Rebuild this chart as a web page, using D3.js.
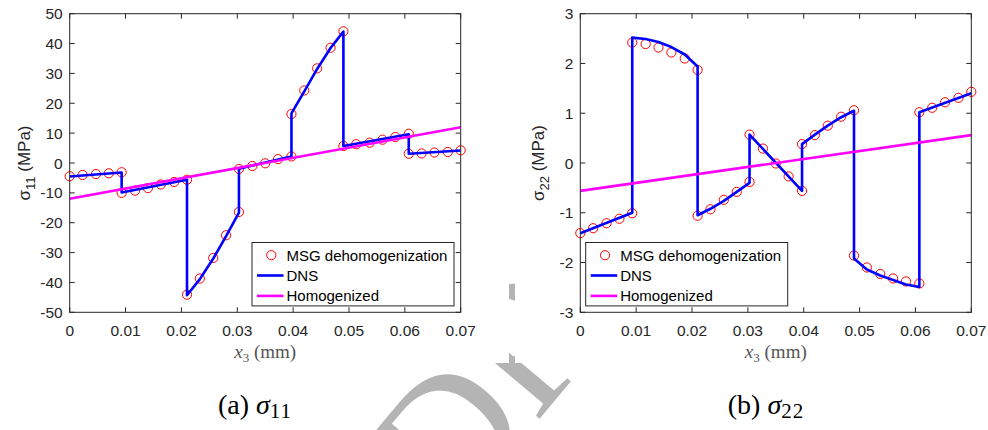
<!DOCTYPE html>
<html>
<head>
<meta charset="utf-8">
<script src="https://cdn.jsdelivr.net/npm/d3@7"></script>
<style>
body { margin: 0; background: #fff; }
svg { display: block; }
</style>
</head>
<body>
<svg id="fig" width="988" height="430"></svg>
<script>
// marker positions (MSG dehomogenization), same x for both panels
var xMsg = [0, 0.0023, 0.0047, 0.007, 0.0093, 0.0093, 0.0117, 0.014, 0.0163, 0.0187, 0.021,
            0.021, 0.0233, 0.0257, 0.028, 0.0303, 0.0303, 0.0327, 0.035, 0.0373, 0.0397,
            0.0397, 0.042, 0.0443, 0.0467, 0.049, 0.049, 0.0513, 0.0537, 0.056, 0.0583, 0.0607,
            0.0607, 0.063, 0.0653, 0.0677, 0.07];
var s11Msg = [-4.45, -4.0, -3.7, -3.45, -3.1, -10.0, -9.25, -8.4, -7.2, -6.35, -5.6,
              -44.1, -38.7, -31.8, -24.2, -16.4, -2.0, -1.0, -0.1, 1.3, 2.2,
              16.4, 24.3, 31.7, 38.6, 44.1, 5.7, 6.3, 6.8, 7.8, 8.7, 9.8,
              3.1, 3.2, 3.5, 3.7, 4.25];
var s22Msg = [-1.41, -1.31, -1.21, -1.12, -1.01, 2.42, 2.39, 2.32, 2.22, 2.10, 1.87,
              -1.06, -0.93, -0.74, -0.58, -0.38, 0.57, 0.29, -0.01, -0.27, -0.56,
              0.38, 0.56, 0.75, 0.93, 1.06, -1.86, -2.10, -2.23, -2.32, -2.38, -2.42,
              1.02, 1.11, 1.22, 1.31, 1.43];

// DNS curves
var xDns11 = [0, 0.0093, 0.0093, 0.021, 0.021, 0.0233, 0.0257, 0.028, 0.0303, 0.0303, 0.0397,
              0.0397, 0.042, 0.0443, 0.0467, 0.049, 0.049, 0.0607, 0.0607, 0.07];
var s11Dns = [-4.5, -3.2, -9.9, -5.6, -44.3, -38.9, -32.0, -24.5, -16.6, -1.9, 2.2,
              16.6, 24.0, 31.5, 38.5, 44.0, 5.7, 9.6, 3.1, 4.2];
var xDns22 = [0, 0.0093, 0.0093, 0.0117, 0.014, 0.0163, 0.0187, 0.021, 0.021, 0.0233, 0.0257,
              0.028, 0.0303, 0.0303, 0.0397, 0.0397, 0.042, 0.0443, 0.0467, 0.049, 0.049,
              0.0513, 0.0537, 0.056, 0.0583, 0.0607, 0.0607, 0.07];
var s22Dns = [-1.41, -1.0, 2.52, 2.49, 2.43, 2.33, 2.18, 1.94, -1.05, -0.92, -0.76,
              -0.58, -0.4, 0.57, -0.56, 0.38, 0.57, 0.75, 0.92, 1.05, -1.92,
              -2.14, -2.26, -2.35, -2.44, -2.49, 1.02, 1.40];

// homogenized solution
var xHom = [0, 0.07];
var s11Hom = [-12, 12];
var s22Hom = [-0.56, 0.56];

var xTicks = [0, 0.01, 0.02, 0.03, 0.04, 0.05, 0.06, 0.07];
var s11Ticks = [-50, -40, -30, -20, -10, 0, 10, 20, 30, 40, 50];
var s22Ticks = [-3, -2, -1, 0, 1, 2, 3];

var legendNames = ["MSG dehomogenization", "DNS", "Homogenized"];

var svg = d3.select("#fig");
var axisColor = "#262626";
var sans = "'Liberation Sans', Arial, Helvetica, sans-serif";
var serif = "'Liberation Serif', 'Times New Roman', serif";

svg.append("rect").attr("width", 988).attr("height", 430).attr("fill", "#fff");

// watermark behind the figure images
svg.append("text")
    .text("DRAFT")
    .attr("transform", "translate(452,523) rotate(-50)")
    .attr("font-family", serif)
    .attr("font-size", "180px")
    .attr("fill", "#b4b4b4");
svg.append("rect").attr("x", 0).attr("y", 0).attr("width", 509).attr("height", 363).attr("fill", "#fff");
svg.append("rect").attr("x", 515).attr("y", 0).attr("width", 473).attr("height", 363).attr("fill", "#fff");

function panel(opt) {
    var left = opt.left, right = opt.left + 391, top = 13.7, bottom = 312.3;
    var x = d3.scaleLinear().domain([0, 0.07]).range([left, right]);
    var y = d3.scaleLinear().domain(opt.yDomain).range([bottom, top]);
    var g = svg.append("g");

    // ticks (inward on all four sides)
    var tk = 5;
    g.selectAll(".xt").data(xTicks).enter().append("path")
        .attr("d", function (d) { var px = x(d); return "M" + px + "," + bottom + "v" + (-tk) + "M" + px + "," + top + "v" + tk; })
        .attr("stroke", axisColor).attr("stroke-width", 1);
    g.selectAll(".yt").data(opt.yTicks).enter().append("path")
        .attr("d", function (d) { var py = y(d); return "M" + left + "," + py + "h" + tk + "M" + right + "," + py + "h" + (-tk); })
        .attr("stroke", axisColor).attr("stroke-width", 1);

    g.selectAll(".xl").data(xTicks).enter().append("text")
        .text(function (d) { return String(d); })
        .attr("x", function (d) { return x(d); })
        .attr("y", bottom + 24)
        .attr("text-anchor", "middle")
        .attr("font-family", sans).attr("font-size", "15.5px").attr("fill", axisColor);
    g.selectAll(".yl").data(opt.yTicks).enter().append("text")
        .text(function (d) { return String(d); })
        .attr("x", left - 7)
        .attr("y", function (d) { return y(d) + 5.6; })
        .attr("text-anchor", "end")
        .attr("font-family", sans).attr("font-size", "15.5px").attr("fill", axisColor);

    // y label
    var yl = g.append("text")
        .attr("transform", "translate(" + opt.ylabX + "," + 163 + ") rotate(-90)")
        .attr("text-anchor", "middle")
        .attr("font-family", sans).attr("font-size", "17px").attr("fill", axisColor);
    yl.append("tspan").text("σ");
    yl.append("tspan").text(opt.sub).attr("font-size", "13px").attr("dy", 5);
    yl.append("tspan").text(" (MPa)").attr("dy", -5);

    // x label
    var xl = g.append("text")
        .attr("x", (left + right) / 2)
        .attr("y", 358)
        .attr("text-anchor", "middle")
        .attr("font-family", serif).attr("font-size", "19px").attr("fill", "#555");
    xl.append("tspan").text("x").attr("font-style", "italic");
    xl.append("tspan").text("3").attr("font-size", "13px").attr("dy", 4);
    xl.append("tspan").text(" (mm)").attr("dy", -4);

    // data
    g.selectAll(".msg").data(xMsg).enter().append("circle")
        .attr("cx", function (d) { return x(d); })
        .attr("cy", function (d, i) { return y(opt.msg[i]); })
        .attr("r", 4.6)
        .attr("fill", "none").attr("stroke", "#ff0000").attr("stroke-width", 1);

    var line = d3.line()
        .x(function (d) { return x(d[0]); })
        .y(function (d) { return y(d[1]); });
    g.append("path")
        .datum(d3.zip(opt.xDns, opt.dns))
        .attr("d", line)
        .attr("fill", "none").attr("stroke", "#0000ff").attr("stroke-width", 2.6)
        .attr("stroke-linejoin", "round");
    g.append("path")
        .datum(d3.zip(xHom, opt.hom))
        .attr("d", line)
        .attr("fill", "none").attr("stroke", "#ff00ff").attr("stroke-width", 2.6);

    // box
    g.append("rect")
        .attr("x", left).attr("y", top).attr("width", right - left).attr("height", bottom - top)
        .attr("fill", "none").attr("stroke", axisColor).attr("stroke-width", 1);

    // legend
    var lw = 202, lh = 63.4;
    var lx = opt.legendLeft ? left + 5.4 : right - 6.7 - lw;
    var ly = bottom - 6.4 - lh;
    var lg = g.append("g").attr("transform", "translate(" + lx + "," + ly + ")");
    lg.append("rect").attr("width", lw).attr("height", lh)
        .attr("fill", "#fff").attr("stroke", axisColor).attr("stroke-width", 1);
    var rows = [12.7, 33, 53.4];
    lg.append("circle").attr("cx", 19.3).attr("cy", rows[0]).attr("r", 4.6)
        .attr("fill", "none").attr("stroke", "#ff0000").attr("stroke-width", 1);
    lg.append("line").attr("x1", 5).attr("x2", 31.5).attr("y1", rows[1]).attr("y2", rows[1])
        .attr("stroke", "#0000ff").attr("stroke-width", 2.6);
    lg.append("line").attr("x1", 5).attr("x2", 31.5).attr("y1", rows[2]).attr("y2", rows[2])
        .attr("stroke", "#ff00ff").attr("stroke-width", 2.6);
    lg.selectAll(".ln").data(legendNames).enter().append("text")
        .text(function (d) { return d; })
        .attr("x", 34.5)
        .attr("y", function (d, i) { return rows[i] + 5.3; })
        .attr("font-family", sans).attr("font-size", "15px").attr("fill", "#000");

    // caption
    var cap = svg.append("text")
        .attr("x", opt.capX).attr("y", 414)
        .attr("text-anchor", "middle")
        .attr("font-family", serif).attr("font-size", "28px").attr("fill", "#000");
    cap.append("tspan").text(opt.capTag + " ");
    cap.append("tspan").text("σ").attr("font-style", "italic");
    cap.append("tspan").text(opt.sub).attr("font-size", "21px").attr("dy", 4)
        .attr("letter-spacing", "1px");
}

panel({ left: 69.7, yDomain: [-50, 50], yTicks: s11Ticks, sub: "11", ylabX: 30,
        msg: s11Msg, xDns: xDns11, dns: s11Dns, hom: s11Hom,
        legendLeft: false, capX: 255, capTag: "(a)" });
panel({ left: 580.3, yDomain: [-3, 3], yTicks: s22Ticks, sub: "22", ylabX: 544,
        msg: s22Msg, xDns: xDns22, dns: s22Dns, hom: s22Hom,
        legendLeft: true, capX: 766, capTag: "(b)" });
</script>
</body>
</html>
